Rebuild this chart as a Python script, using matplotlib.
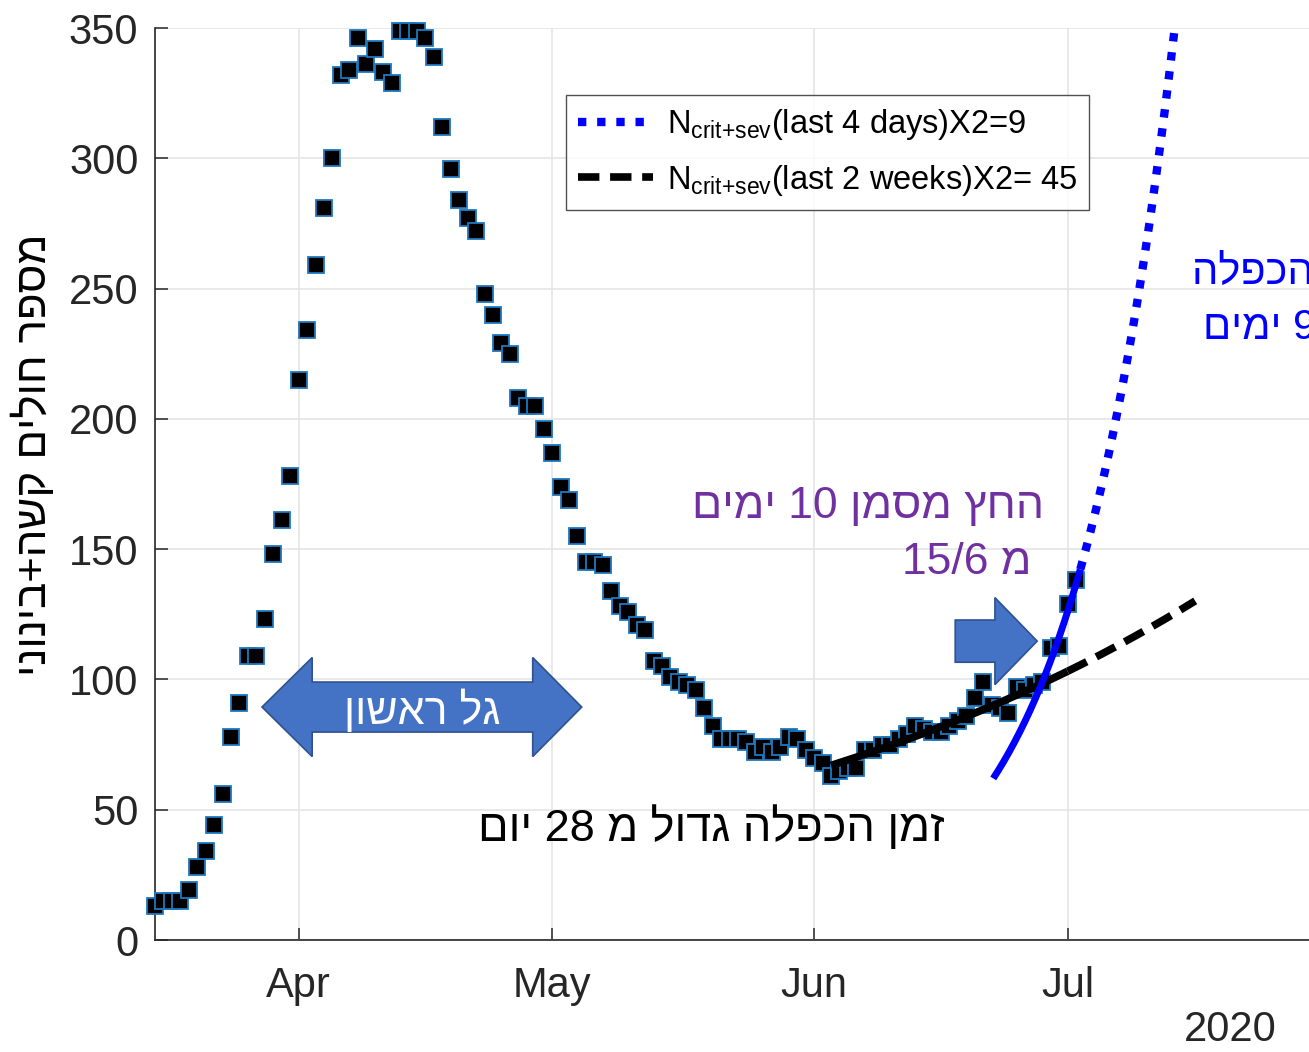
import re
import numpy as np
import pandas as pd
import matplotlib
matplotlib.use("Agg")
import matplotlib.pyplot as plt
import matplotlib.dates as mdates
from matplotlib.patches import Polygon

plt.rcParams['font.family'] = ['Liberation Sans', 'DejaVu Sans']
plt.rcParams['mathtext.fontset'] = 'custom'
plt.rcParams['mathtext.rm'] = 'Liberation Sans'
plt.rcParams['mathtext.it'] = 'Liberation Sans:italic'

# ---------------- data ----------------
start_date = "2020-03-15"
patients = [13, 15, 15, 15, 19, 28, 34, 44, 56, 78,
            91, 109, 109, 123, 148, 161, 178, 215, 234, 259,
            281, 300, 332, 334, 346, 336, 342, 333, 329, 349,
            349, 349, 346, 339, 312, 296, 284, 277, 272, 248,
            240, 229, 225, 208, 205, 205, 196, 187, 174, 169,
            155, 145, 145, 144, 134, 128, 126, 121, 119, 107,
            105, 101, 99, 98, 96, 89, 82, 77, 77, 77,
            76, 72, 74, 72, 74, 78, 77, 73, 70, 68,
            63, 65, 66, 66, 73, 73, 75, 75, 77, 79,
            82, 81, 80, 80, 82, 84, 86, 93, 99, 90,
            89, 87, 97, 96, 98, 99, 112, 113, 129, 138]

# exponential fits (start day offset, start value, doubling time, solid end, extrapolation end)
fit2w = dict(d0=80, n0=67, T=45, solid_end=108, end=123.1)
fit4d = dict(d0=99.2, n0=62, T=8.6, solid_end=109.5, end=123)

yticks = [0, 50, 100, 150, 200, 250, 300, 350]
xtick_dates = ["2020-04-01", "2020-05-01", "2020-06-01", "2020-07-01"]
xtick_labels = ["Apr", "May", "Jun", "Jul"]

legend_labels = [r'N$_{\mathrm{crit{+}sev}}$(last 4 days)X2=9',
                 r'N$_{\mathrm{crit{+}sev}}$(last 2 weeks)X2= 45']


def heb(s):
    """visual order for Hebrew (LTR renderer)"""
    r = s[::-1]
    return re.sub(r'[0-9/.]+', lambda m: m.group(0)[::-1], r)


# ---------------- figure ----------------
W, H = 1309, 1052
fig = plt.figure(figsize=(W / 100, H / 100), dpi=100)
t0 = mdates.date2num(pd.Timestamp(start_date))
xmax_day = 139
px_per_day = 8.45
ax_w = xmax_day * px_per_day
ax = fig.add_axes([155 / W, 112 / H, ax_w / W, 912 / H])

days = np.arange(len(patients))
xdates = t0 + days

ax.plot(xdates, patients, linestyle='none', marker='s', ms=11.5, mfc='black',
        mec='#1f78c0', mew=1.3, clip_on=False, zorder=3)


def fitline(f, a, b, n=200):
    d = np.linspace(a, b, n)
    return t0 + d, f['n0'] * 2 ** ((d - f['d0']) / f['T'])


# long fit
xs, ys = fitline(fit2w, fit2w['d0'], fit2w['solid_end'])
ax.plot(xs, ys, color='black', lw=5.5, solid_capstyle='butt', zorder=4)
xs, ys = fitline(fit2w, fit2w['solid_end'], fit2w['end'])
l2, = ax.plot(xs, ys, color='black', lw=5.5, dashes=(2.8, 1.4), dash_capstyle='butt', zorder=4)

# short fit
xs, ys = fitline(fit4d, fit4d['d0'], fit4d['solid_end'])
ax.plot(xs, ys, color='#0000ff', lw=5.0, solid_capstyle='butt', zorder=5)
xs, ys = fitline(fit4d, fit4d['solid_end'], fit4d['end'])
l1, = ax.plot(xs, ys, color='#0000ff', lw=6.0, dashes=(1, 1.3), dash_capstyle='butt', zorder=5)

ax.set_xlim(t0, t0 + xmax_day)
ax.set_ylim(0, 350)
ax.set_yticks(yticks)
ax.set_xticks([mdates.date2num(pd.Timestamp(d)) for d in xtick_dates])
ax.set_xticklabels(xtick_labels)
ax.grid(True, color='#e3e3e3', lw=1.1)
ax.set_axisbelow(True)
for s in ['top', 'right']:
    ax.spines[s].set_visible(False)
for s in ['left', 'bottom']:
    ax.spines[s].set_color('#262626')
    ax.spines[s].set_linewidth(1.2)
ax.tick_params(direction='in', length=9, width=1.1, colors='#262626', labelsize=30)
ax.tick_params(axis='y', pad=12)
ax.tick_params(axis='x', pad=19)

ax.set_ylabel(heb('מספר חולים קשה+בינוני'), fontsize=31.5, color='black')
ax.yaxis.set_label_coords(-0.0855, 0.532)

# legend
leg = fig.legend([l1, l2], legend_labels, loc='upper left',
                 bbox_to_anchor=(566 / W, 1 - 95 / H), fontsize=23.5,
                 frameon=True, fancybox=False, handlelength=2.3,
                 handletextpad=0.4, borderpad=0.38, labelspacing=0.62,
                 borderaxespad=0)
leg.get_frame().set_edgecolor('#262626')
leg.get_frame().set_linewidth(1.0)


# arrows (in data units: day offsets / values)
def dbl_arrow(x_tip_l, x_base_l, x_base_r, x_tip_r, yc, bh, hh):
    pts = [(x_tip_l, yc), (x_base_l, yc + hh), (x_base_l, yc + bh), (x_base_r, yc + bh),
           (x_base_r, yc + hh), (x_tip_r, yc), (x_base_r, yc - hh), (x_base_r, yc - bh),
           (x_base_l, yc - bh), (x_base_l, yc - hh)]
    return [(t0 + x, y) for x, y in pts]


def right_arrow(x_l, x_base, x_tip, yc, bh, hh):
    pts = [(x_l, yc + bh), (x_base, yc + bh), (x_base, yc + hh), (x_tip, yc),
           (x_base, yc - hh), (x_base, yc - bh), (x_l, yc - bh)]
    return [(t0 + x, y) for x, y in pts]


ax.add_patch(Polygon(dbl_arrow(12.66, 18.6, 44.7, 50.5, 89.4, 9.6, 19.0),
                     closed=True, fc='#4472C4', ec='#2F528F', lw=1.2, zorder=6))
ax.text(t0 + 31.6, 87.6, heb('גל ראשון'), color='white', fontsize=31,
        ha='center', va='center', zorder=7)
ax.add_patch(Polygon(right_arrow(94.7, 99.4, 104.4, 114.7, 8.1, 16.7),
                     closed=True, fc='#4472C4', ec='#2F528F', lw=1.2, zorder=6))

# annotations
purple = '#7030A0'
fig.text(1044 / W, 1 - 507 / H, heb('החץ מסמן 10 ימים'), color=purple, fontsize=32,
         ha='right', va='center')
fig.text(1032 / W, 1 - 563 / H, heb('מ 15/6'), color=purple, fontsize=32,
         ha='right', va='center')
fig.text(478 / W, 1 - 828 / H, heb('זמן הכפלה גדול מ 28 יום'), color='black', fontsize=32.5,
         ha='left', va='center')
fig.text(1192 / W, 1 - 272 / H, heb('זמן הכפלה'), color='#0000ff', fontsize=30,
         ha='left', va='center')
fig.text(1203 / W, 1 - 328 / H, heb('9 ימים'), color='#0000ff', fontsize=30,
         ha='left', va='center')
fig.text(1230 / W, 1 - 1030 / H, '2020', color='#262626', fontsize=30,
         ha='center', va='center')

fig.savefig('out.png', dpi=100)
